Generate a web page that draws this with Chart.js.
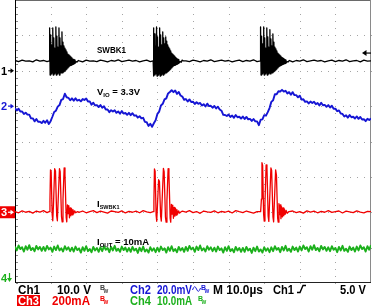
<!DOCTYPE html>
<html><head><meta charset="utf-8">
<script src="https://cdn.jsdelivr.net/npm/chart.js@4.4.0/dist/chart.umd.min.js"></script>
<style>html,body{margin:0;padding:0;background:#fff;}#wrap{width:372px;height:306px;}</style>
</head><body><div id="wrap"><canvas id="c" width="372" height="306"></canvas></div>
<script>
// ---- time base (µs), 10 µs/div, 10 divisions ----
const fineTimes = Array.from({length: 201}, (_, i) => i * 0.5);
const coarseTimes = Array.from({length: 101}, (_, i) => i);

// ---- Ch1: SWBK1 switching node (V) ----
const ch1BaseVolts = [
2.9,2.6,3.0,2.7,2.8,2.5,3.1,2.7,2.9,2.6,
2.8,3.0,2.6,2.9,2.7,3.1,2.6,2.8,2.9,2.5,
3.0,2.7,2.8,2.6,3.0,2.8,2.5,2.9,2.7,3.1,
2.6,2.8,3.0,2.7,2.9,2.5,2.8,3.0,2.6,2.9,
2.7,3.1,2.6,2.8,2.9,2.5,3.0,2.7,2.8,2.6,
3.0,2.8,2.5,2.9,2.7,3.1,2.6,2.8,3.0,2.7,
2.9,2.5,2.8,3.0,2.6,2.9,2.7,3.1,2.6,2.8,
2.9,2.5,3.0,2.7,2.8,2.6,3.0,2.8,2.5,2.9,
2.7,3.1,2.6,2.8,3.0,2.7,2.9,2.5,2.8,3.0,
2.6,2.9,2.7,3.1,2.6,2.8,2.9,2.5,3.0,2.7,
2.8];
const ch1BurstStarts = [9.65, 38.8, 68.9];
const ch1BurstOffsets = [0,0.08,0.22,0.37,0.51,0.65,0.79,0.96,1.10,1.24,1.38,1.52,1.66,1.83,1.97,2.11,2.25,2.39,2.53,2.70,2.84,2.98,3.12,3.26,3.40,3.54,3.68,3.82,3.96,4.10,4.24,4.38,4.52,4.66,4.80,4.94,5.08,5.22,5.37,5.51,5.65,5.79,5.93,6.07,6.21,6.35,6.49,6.63,6.77,6.91,7.05,7.19,7.33,7.58,7.87,8.15,8.43];
const ch1Burst1 = [2.8,12.1,-1.2,10.1,-0.9,7.3,-0.6,12.1,-1.2,9.3,-0.9,6.4,-0.6,12.4,-1.2,9.8,-0.9,6.7,-0.6,12.1,-1.2,9.3,-0.6,7.0,-0.6,11.0,-0.6,8.1,-0.3,7.0,-0.1,6.4,0.2,5.9,0.5,5.3,0.8,4.7,1.1,4.5,1.4,4.2,1.5,3.9,1.6,3.6,1.8,3.3,1.9,3.2,2.1,3.1,2.2,2.6,2.5,2.9,2.8];
const ch1Burst2 = [2.8,12.1,-1.5,10.4,-1.2,7.0,-0.9,12.4,-1.5,9.6,-1.2,6.7,-0.9,12.1,-1.5,10.1,-1.2,7.3,-0.9,11.0,-1.2,9.3,-0.9,7.6,-0.6,9.6,-0.6,8.4,-0.3,7.3,-0.1,6.7,0.2,6.2,0.5,5.6,0.8,5.0,1.1,4.7,1.4,4.4,1.5,4.1,1.6,3.8,1.8,3.5,1.9,3.3,2.1,3.2,2.2,2.6,2.4,3.0,2.8];
const ch1Burst3 = [2.8,12.4,-1.2,9.8,-0.9,7.6,-0.6,12.4,-1.2,9.3,-0.9,6.4,-0.6,12.1,-1.2,9.6,-0.9,6.7,-0.6,11.6,-0.9,9.0,-0.6,7.0,-0.6,10.4,-0.3,8.1,-0.1,6.7,0.2,6.2,0.5,5.6,0.8,5.0,1.1,4.7,1.3,4.4,1.5,4.1,1.6,3.8,1.8,3.6,1.9,3.4,2.0,3.2,2.1,3.1,2.3,2.6,2.5,2.9,2.8];

// ---- Ch2: V_IO ripple (mV, AC) ----
const ch2MilliVolts = [
-1.1,-2.5,-1.5,-3.0,-3.0,-4.5,-3.7,-4.8,-4.8,-6.9,
-6.9,-8.6,-7.3,-8.9,-8.8,-9.6,-8.3,-9.4,-8.0,-10.1,
-8.5,-6.0,-3.3,-2.6,-0.3,0.6,3.5,4.0,7.0,5.0,
4.7,3.3,4.4,3.1,4.4,3.1,3.6,2.7,4.0,3.5,
4.3,2.6,2.7,0.8,1.9,0.4,0.6,-0.5,0.6,-0.9,
-0.1,-1.9,-1.9,-3.4,-2.3,-3.0,-2.3,-3.8,-3.0,-4.3,
-2.8,-4.2,-3.9,-4.9,-3.8,-5.1,-4.0,-5.4,-5.2,-6.5,
-5.7,-6.9,-6.6,-8.9,-9.1,-11.2,-10.0,-11.7,-9.7,-8.0,
-4.4,-3.1,0.4,1.3,3.8,4.4,7.2,8.0,9.0,7.9,
8.8,6.9,8.0,6.0,5.4,3.6,4.0,2.6,3.8,2.3,
2.5,1.2,2.2,1.3,1.8,0.3,1.1,-0.2,1.4,0.0,
0.2,-0.9,0.1,-1.3,-0.3,-1.9,-2.6,-4.9,-5.0,-5.6,
-4.8,-6.1,-5.3,-6.6,-5.0,-6.3,-6.0,-7.0,-5.9,-7.3,
-6.1,-7.5,-7.2,-8.4,-7.3,-8.6,-8.6,-10.8,-7.7,-7.5,
-5.1,-5.4,-3.4,-1.1,2.4,3.3,6.7,6.7,8.4,8.3,
9.2,8.2,8.7,7.2,7.9,6.4,7.9,6.2,6.2,5.0,
5.9,3.7,3.9,2.4,2.7,1.5,2.6,1.8,2.5,1.1,
1.8,0.4,1.9,0.5,0.7,-0.4,0.6,-0.8,0.2,-1.5,
-1.4,-2.9,-2.4,-4.2,-4.4,-5.9,-5.2,-6.5,-5.0,-6.3,
-6.0,-7.0,-5.8,-7.2,-6.1,-7.6,-7.4,-8.5,-7.2,-7.8,
-7.0];

// ---- Ch3: I_SWBK1 (mA) ----
const ch3BaseMilliAmps = [
4,-3,8,0,5,-5,7,1,9,-2,
3,-6,6,2,-1,8,-4,5,0,7,
-3,4,9,-2,6,1,-5,7,3,-1,
8,-4,5,0,6,-3,9,2,-2,4,
7,-5,3,8,-1,5,-4,6,1,9,
-2,4,-6,7,2,-1,8,-3,5,0,
6,-4,9,3,-2,7,1,-5,4,8,
-1,6,-3,5,2,9,-4,3,7,-2,
4,-5,8,1,6,-3,5,0,9,-1,
3,7,-4,6,2,-2,8,1,-3,5,
4];
const ch3BurstStarts = [9.6, 38.8, 69.0];
const ch3BurstOffsets = [0,0.22,0.37,0.56,0.84,1.01,1.21,1.54,1.77,2.11,2.30,2.53,2.89,3.09,3.46,3.65,3.88,4.21,4.44,4.78,4.94,5.14,5.34,5.51,5.70,5.90,6.10,6.29,6.49,6.69,6.88,7.16,7.44,7.87];
const ch3Burst1 = [3,71,240,229,-14,-48,42,246,234,-20,-48,71,246,229,-25,-54,71,251,212,-31,-54,42,-8,37,-31,25,-20,20,-14,14,-8,8,-3,3];
const ch3Burst2 = [3,60,245,232,-17,-51,35,184,175,-22,-50,68,248,230,-28,-56,65,246,215,-34,-56,45,-11,40,-34,28,-22,22,-16,14,-10,8,-5,3];
const ch3Burst3 = [3,75,280,265,-12,-50,48,268,255,-22,-52,70,251,236,-26,-54,68,240,210,-34,-56,48,-14,42,-36,30,-26,25,-20,18,-12,10,-6,3];

// ---- Ch4: I_OUT (mA) ----
const ch4MilliAmps = [
10.8,9.7,11.1,10.1,10.6,9.4,10.9,9.9,11.2,9.8,10.4,9.5,11.0,10.0,10.7,9.6,
10.7,9.6,11.0,10.0,10.5,9.3,10.8,9.8,11.1,9.7,10.3,9.4,10.9,9.9,10.6,9.5,
10.5,9.4,10.8,9.8,10.3,9.1,10.6,9.6,10.9,9.5,10.1,9.2,10.7,9.7,10.4,9.3,
10.6,9.5,10.9,9.9,10.4,9.2,10.7,9.7,11.0,9.6,10.2,9.3,10.8,9.8,10.5,9.4,
10.4,9.3,10.7,9.7,10.2,9.0,10.5,9.5,10.8,9.4,10.0,9.1,10.6,9.6,10.3,9.2,
10.5,9.4,10.8,9.8,10.3,9.1,10.6,9.6,10.9,9.5,10.1,9.2,10.7,9.7,10.4,9.3,
10.7,9.6,11.0,10.0,10.5,9.3,10.8,9.8,11.1,9.7,10.3,9.4,10.9,9.9,10.6,9.5,
10.5,9.4,10.8,9.8,10.3,9.1,10.6,9.6,10.9,9.5,10.1,9.2,10.7,9.7,10.4,9.3,
10.4,9.3,10.7,9.7,10.2,9.0,10.5,9.5,10.8,9.4,10.0,9.1,10.6,9.6,10.3,9.2,
10.6,9.5,10.9,9.9,10.4,9.2,10.7,9.7,11.0,9.6,10.2,9.3,10.8,9.8,10.5,9.4,
10.8,9.7,11.1,10.1,10.6,9.4,10.9,9.9,11.2,9.8,10.4,9.5,11.0,10.0,10.7,9.6,
10.6,9.5,10.9,9.9,10.4,9.2,10.7,9.7,11.0,9.6,10.2,9.3,10.8,9.8,10.5,9.4,
10.8,9.7,11.1,10.1,10.6,9.4,10.9,9.9,11.2];

// ---- readout texts ----
const traceLabels = ['SWBK1', 'V', 'IO', ' = 3.3V', 'I', 'SWBK1', 'I', 'OUT', ' = 10mA'];
const readoutRow1 = ['Ch1', '10.0 V', 'Ch2', '20.0mV', 'M 10.0\u00B5s', 'Ch1', '5.0 V'];
const readoutRow2 = ['Ch3', '200mA', 'Ch4', '10.0mA'];
const channelMarks = ['1', '2', '3', '4'];

function mergeBursts(baseT, baseV, starts, offsets, bursts) {
  const dur = offsets[offsets.length - 1];
  const pts = [];
  baseT.forEach((t, i) => {
    if (!starts.some(s => t >= s && t <= s + dur)) pts.push({x: t, y: baseV[i]});
  });
  starts.forEach((s, k) => offsets.forEach((d, j) => pts.push({x: s + d, y: bursts[k][j]})));
  pts.sort((a, b) => a.x - b.x);
  return pts;
}
const ch1Points = mergeBursts(coarseTimes, ch1BaseVolts, ch1BurstStarts, ch1BurstOffsets, [ch1Burst1, ch1Burst2, ch1Burst3]);
const ch3Points = mergeBursts(coarseTimes, ch3BaseMilliAmps, ch3BurstStarts, ch3BurstOffsets, [ch3Burst1, ch3Burst2, ch3Burst3]);
const ch2Points = fineTimes.map((t, i) => ({x: t, y: ch2MilliVolts[i]}));
const ch4Points = fineTimes.map((t, i) => ({x: t, y: ch4MilliAmps[i]}));

const BLUE = '#1616d4', RED = '#f00000', GREEN = '#1cb01c';
const FONT = "'Liberation Sans', Arial, sans-serif";

function arrowRight(ctx, x0, x1, y, color) {
  ctx.strokeStyle = color; ctx.fillStyle = color; ctx.lineWidth = 1.2;
  ctx.beginPath(); ctx.moveTo(x0, y); ctx.lineTo(x1 - 2, y); ctx.stroke();
  ctx.beginPath(); ctx.moveTo(x1, y); ctx.lineTo(x1 - 3.5, y - 2.5); ctx.lineTo(x1 - 3.5, y + 2.5); ctx.closePath(); ctx.fill();
}
function bw(ctx, x, y, color) {
  ctx.fillStyle = color;
  ctx.font = 'bold 7px ' + FONT; ctx.fillText('B', x, y - 3);
  ctx.font = 'bold 5px ' + FONT; ctx.fillText('W', x + 3.5, y);
}

const scopePlugin = {
  id: 'scope',
  beforeDatasetsDraw(chart) {
    const {ctx, chartArea: a, scales} = chart;
    const xs = scales.x, ys = scales.y1;
    ctx.save();
    ctx.fillStyle = '#a4a4a4';
    for (let t = 10; t < 100; t += 10) {
      const x = Math.round(xs.getPixelForValue(t));
      for (let m = 0; m <= 40; m++) ctx.fillRect(x, Math.round(a.top + m * (a.bottom - a.top) / 40), 1, 1);
    }
    for (let v = -50; v < 20; v += 10) {
      const y = Math.round(ys.getPixelForValue(v));
      for (let m = 0; m <= 50; m++) ctx.fillRect(Math.round(a.left + m * (a.right - a.left) / 50), y, 1, 1);
    }
    ctx.fillStyle = '#888';
    for (let m = 0; m <= 40; m++) ctx.fillRect(Math.round(a.left) + 1, Math.round(a.top + m * (a.bottom - a.top) / 40), 2, 1);
    // frame
    ctx.fillStyle = '#6a6a6a';
    ctx.fillRect(Math.round(a.left), 0, Math.round(a.right - a.left), 1);
    ctx.fillStyle = '#8a8a8a';
    ctx.fillRect(Math.round(a.right) - 1, 0, 1, Math.round(a.bottom));
    ctx.fillStyle = '#222';
    ctx.fillRect(Math.round(a.left), Math.round(a.bottom) - 1, Math.round(a.right - a.left), 1);
    ctx.fillStyle = '#000';
    ctx.fillRect(Math.round(a.left), 0, 1, Math.round(a.bottom));
    ctx.restore();
  },
  afterDraw(chart) {
    const {ctx, scales} = chart;
    ctx.save();
    ctx.textBaseline = 'alphabetic';
    // in-plot labels
    ctx.fillStyle = '#000';
    ctx.font = 'bold 9px ' + FONT; ctx.fillText(traceLabels[0], 97, 52.5, 29);
    let x = 97;
    ctx.font = 'bold 9.5px ' + FONT; ctx.fillText(traceLabels[1], x, 95); x += ctx.measureText(traceLabels[1]).width;
    ctx.font = 'bold 6px ' + FONT; ctx.fillText(traceLabels[2], x, 96.5); x += ctx.measureText(traceLabels[2]).width;
    ctx.font = 'bold 9.5px ' + FONT; ctx.fillText(traceLabels[3], x, 95);
    x = 97;
    ctx.font = 'bold 9.5px ' + FONT; ctx.fillText(traceLabels[4], x, 207); x += ctx.measureText(traceLabels[4]).width;
    ctx.font = 'bold 5.5px ' + FONT; ctx.fillText(traceLabels[5], x, 208.5);
    x = 97;
    ctx.font = 'bold 9.5px ' + FONT; ctx.fillText(traceLabels[6], x, 245); x += ctx.measureText(traceLabels[6]).width;
    ctx.font = 'bold 6px ' + FONT; ctx.fillText(traceLabels[7], x, 246.5); x += ctx.measureText(traceLabels[7]).width;
    ctx.font = 'bold 9.5px ' + FONT; ctx.fillText(traceLabels[8], x, 245);

    // channel ground markers
    const g1 = scales.y1.getPixelForValue(0), g2 = scales.y2.getPixelForValue(0), g3 = scales.y3.getPixelForValue(0);
    ctx.font = 'bold 11px ' + FONT;
    ctx.fillStyle = '#000'; ctx.fillText(channelMarks[0], 1, g1 + 4); arrowRight(ctx, 8, 14, g1, '#000');
    ctx.fillStyle = BLUE; ctx.font = 'bold 11px ' + FONT; ctx.fillText(channelMarks[1], 1, g2 + 4); arrowRight(ctx, 8, 14, g2, BLUE);
    ctx.fillStyle = RED; ctx.fillRect(0, g3 - 6, 15, 12);
    ctx.fillStyle = '#fff'; ctx.font = 'bold 11px ' + FONT; ctx.fillText(channelMarks[2], 1, g3 + 4); arrowRight(ctx, 8, 14, g3, '#fff');
    ctx.fillStyle = GREEN; ctx.font = 'bold 11px ' + FONT; ctx.fillText(channelMarks[3], 1, 282);
    ctx.strokeStyle = GREEN; ctx.lineWidth = 1.2;
    ctx.beginPath(); ctx.moveTo(9.5, 273); ctx.lineTo(9.5, 279); ctx.stroke();
    ctx.beginPath(); ctx.moveTo(9.5, 282); ctx.lineTo(7, 278); ctx.lineTo(12, 278); ctx.closePath(); ctx.fill();
    // trigger level arrow
    const tr = scales.y1.getPixelForValue(5);
    ctx.fillStyle = '#000'; ctx.strokeStyle = '#000'; ctx.lineWidth = 1.2;
    ctx.beginPath(); ctx.moveTo(366, tr); ctx.lineTo(371, tr); ctx.stroke();
    ctx.beginPath(); ctx.moveTo(362, tr); ctx.lineTo(366.5, tr - 3); ctx.lineTo(366.5, tr + 3); ctx.closePath(); ctx.fill();

    // readouts
    const r1 = 293.5, r2 = 304.5;
    const RF = 'bold 12px ' + FONT;
    ctx.font = RF;
    ctx.fillStyle = '#000';
    ctx.fillText(readoutRow1[0], 18, r1, 22);
    ctx.fillText(readoutRow1[1], 57, r1, 34);
    bw(ctx, 100, r1 - 1, '#444');
    ctx.fillStyle = BLUE; ctx.font = RF;
    ctx.fillText(readoutRow1[2], 130, r1, 21);
    ctx.fillText(readoutRow1[3], 157, r1, 35);
    ctx.strokeStyle = BLUE; ctx.lineWidth = 1;
    ctx.beginPath(); ctx.moveTo(192.5, 290); ctx.quadraticCurveTo(194.5, 284, 196.5, 289); ctx.quadraticCurveTo(198.5, 294, 200.5, 288); ctx.stroke();
    bw(ctx, 201, r1 - 1, BLUE);
    ctx.fillStyle = '#000'; ctx.font = RF;
    ctx.fillText(readoutRow1[4], 213, r1, 50);
    ctx.fillText(readoutRow1[5], 273, r1, 21);
    ctx.strokeStyle = '#000'; ctx.lineWidth = 1.4;
    ctx.beginPath(); ctx.moveTo(297, 292.5); ctx.lineTo(300, 292.5); ctx.lineTo(303, 285.5); ctx.lineTo(306, 285.5); ctx.stroke();
    ctx.fillText(readoutRow1[6], 340, r1, 26);

    ctx.fillStyle = RED; ctx.fillRect(17, 295, 23, 11);
    ctx.fillStyle = '#fff'; ctx.font = RF;
    ctx.fillText(readoutRow2[0], 18, r2, 21);
    ctx.fillStyle = RED; ctx.fillText(readoutRow2[1], 52, r2, 38);
    bw(ctx, 100, r2 - 1, RED);
    ctx.fillStyle = GREEN; ctx.font = RF;
    ctx.fillText(readoutRow2[2], 130, r2, 21);
    ctx.fillText(readoutRow2[3], 157, r2, 35);
    bw(ctx, 198, r2 - 1, GREEN);
    ctx.restore();
  }
};

const common = {pointRadius: 0, tension: 0, borderJoinStyle: 'round', fill: false, xAxisID: 'x'};
new Chart(document.getElementById('c'), {
  type: 'line',
  data: {
    datasets: [
      Object.assign({label: 'Ch1 SWBK1 (V)', data: ch1Points, borderColor: '#000', borderWidth: 1.3, yAxisID: 'y1'}, common),
      Object.assign({label: 'Ch2 V_IO (mV)', data: ch2Points, borderColor: BLUE, borderWidth: 1.9, yAxisID: 'y2'}, common),
      Object.assign({label: 'Ch3 I_SWBK1 (mA)', data: ch3Points, borderColor: RED, borderWidth: 1.3, yAxisID: 'y3'}, common),
      Object.assign({label: 'Ch4 I_OUT (mA)', data: ch4Points, borderColor: GREEN, borderWidth: 1.9, yAxisID: 'y4'}, common)
    ]
  },
  options: {
    responsive: false,
    devicePixelRatio: 1,
    animation: false,
    events: [],
    layout: {padding: {left: 15, right: 1, top: 0, bottom: 23}},
    plugins: {legend: {display: false}, tooltip: {enabled: false}, title: {display: false}},
    scales: {
      x: {type: 'linear', min: 0, max: 100, display: false},
      y1: {type: 'linear', min: -60, max: 20, display: false},
      y2: {type: 'linear', min: -100, max: 60, display: false},
      y3: {type: 'linear', min: -400, max: 1200, display: false},
      y4: {type: 'linear', min: 0.5, max: 80.5, display: false}
    }
  },
  plugins: [scopePlugin]
});
</script></body></html>
